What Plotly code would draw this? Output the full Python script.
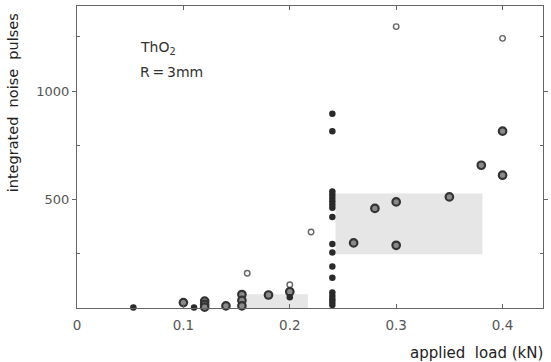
import plotly.graph_objects as go

# filled dark dots
filled_x = [0.053, 0.11, 0.20] + [0.24] * 18
filled_y = [2, 2, 50, 895, 815, 537, 522, 507, 492, 477, 462, 420, 295, 256, 191, 140, 71, 55, 40, 28, 14]

# bold rings (grey centre)
ring_x = [0.10, 0.12, 0.12, 0.12, 0.14, 0.155, 0.155, 0.155, 0.18, 0.20,
          0.26, 0.28, 0.30, 0.30, 0.35, 0.38, 0.40, 0.40]
ring_y = [25, 32, 17, 4, 10, 62, 35, 10, 60, 75,
          300, 459, 489, 289, 512, 658, 612, 815]

# thin open circles
open_x = [0.16, 0.20, 0.22, 0.30, 0.40]
open_y = [160, 107, 350, 1297, 1243]

# shaded ranges
rect_x0 = [0.158, 0.243]
rect_x1 = [0.217, 0.381]
rect_y0 = [0, 248]
rect_y1 = [63, 528]

x_ticks = [0, 0.1, 0.2, 0.3, 0.4]
x_labels = ["0", "0.1", "0.2", "0.3", "0.4"]
y_ticks = [500, 1000]
y_labels = ["500", "1000"]

fig = go.Figure()

for a, b, c, d in zip(rect_x0, rect_x1, rect_y0, rect_y1):
    fig.add_shape(type="rect", x0=a, x1=b, y0=c, y1=d, xref="x", yref="y",
                  fillcolor="#e6e6e6", line=dict(width=0), layer="below")

fig.add_trace(go.Scatter(x=open_x, y=open_y, mode="markers", cliponaxis=False,
                         marker=dict(size=5.5, color="white", line=dict(color="#666", width=1.4))))
fig.add_trace(go.Scatter(x=ring_x, y=ring_y, mode="markers", cliponaxis=False,
                         marker=dict(size=7.5, color="#8a8a8a", line=dict(color="#333", width=2.2))))
fig.add_trace(go.Scatter(x=filled_x, y=filled_y, mode="markers", cliponaxis=False,
                         marker=dict(size=6.5, color="#2a2a2a", line=dict(width=0))))

font = "DejaVu Sans"
fig.add_annotation(x=0.13, y=0.86, xref="paper", yref="paper", xanchor="left", yanchor="middle",
                   text="ThO<sub>2</sub>", showarrow=False, font=dict(family=font, size=14, color="#333"))
fig.add_annotation(x=0.13, y=0.78, xref="paper", yref="paper", xanchor="left", yanchor="middle",
                   text="R\u2009=\u20093mm", showarrow=False, font=dict(family=font, size=14, color="#333"))

fig.add_annotation(x=1.005, y=-0.15, xref="paper", yref="paper", xanchor="right", yanchor="middle",
                   text="applied  load (kN)", showarrow=False, font=dict(family=font, size=15, color="#222"))
fig.add_annotation(x=-0.138, y=0.68, xref="paper", yref="paper", xanchor="center", yanchor="middle",
                   text="integrated  noise  pulses", textangle=-90, showarrow=False,
                   font=dict(family=font, size=14.5, color="#222"))

fig.update_layout(
    width=551, height=362,
    margin=dict(l=77, r=3, t=6, b=54),
    plot_bgcolor="white", paper_bgcolor="white",
    showlegend=False,
    font=dict(family=font, size=12, color="#555"),
)
fig.update_xaxes(range=[0, 0.438], tickvals=x_ticks, ticktext=x_labels,
                 ticks="inside", ticklen=4, tickcolor="#666", mirror="ticks",
                 showline=True, linecolor="#666", linewidth=1.2, showgrid=False, zeroline=False,
                 ticklabelstandoff=5,
                 tickfont=dict(size=13.5, color="#555"))
fig.update_yaxes(range=[0, 1392], tickvals=y_ticks, ticktext=y_labels,
                 ticks="outside", ticklen=4, tickcolor="#666", mirror="ticks",
                 minor=dict(tickvals=[250, 750, 1250], ticks="inside", ticklen=3, tickcolor="#666"),
                 showline=True, linecolor="#666", linewidth=1.2, showgrid=False, zeroline=False,
                 tickfont=dict(size=13, color="#555"))

fig.write_html("out.html", config={"displayModeBar": False},
               post_script="document.body.style.margin='0';document.body.style.overflow='hidden';")
